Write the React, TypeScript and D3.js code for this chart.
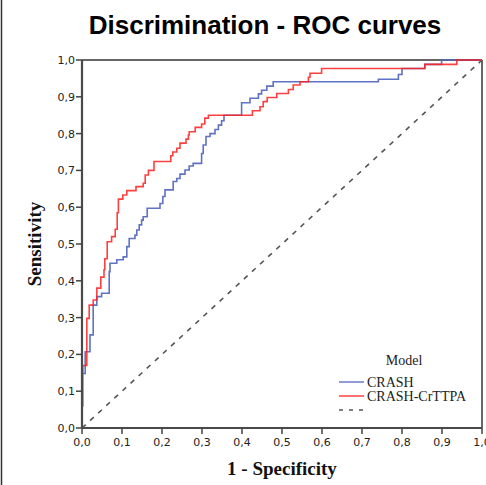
import React from "react";
import * as d3 from "d3";

// 1 - specificity / sensitivity vertices of each step curve
const crashFpr = [0.003, 0.008, 0.02, 0.028, 0.037, 0.049, 0.068, 0.07, 0.087, 0.103, 0.112, 0.118, 0.1325, 0.137, 0.143, 0.149, 0.153, 0.163, 0.195, 0.202, 0.2075, 0.228, 0.237, 0.245, 0.2575, 0.268, 0.278, 0.299, 0.303, 0.31, 0.32, 0.3325, 0.341, 0.349, 0.355, 0.399, 0.42, 0.441, 0.449, 0.462, 0.478, 0.741, 0.791, 0.8, 0.857, 0.899, 1];
const crashTpr = [0.148, 0.207, 0.253, 0.334, 0.357, 0.366, 0.425, 0.4475, 0.457, 0.465, 0.493, 0.515, 0.524, 0.538, 0.552, 0.565, 0.574, 0.597, 0.61, 0.629, 0.647, 0.67, 0.678, 0.69, 0.701, 0.712, 0.719, 0.746, 0.769, 0.792, 0.8, 0.811, 0.823, 0.835, 0.85, 0.884, 0.896, 0.908, 0.918, 0.929, 0.941, 0.9475, 0.9606, 0.977, 0.988, 1, 1];

const ttpaFpr = [0.002, 0.002, 0.012, 0.018, 0.028, 0.037, 0.047, 0.055, 0.057, 0.063, 0.074, 0.083, 0.088, 0.091, 0.102, 0.112, 0.135, 0.153, 0.158, 0.166, 0.18, 0.222, 0.227, 0.237, 0.245, 0.26, 0.266, 0.268, 0.283, 0.299, 0.307, 0.316, 0.426, 0.445, 0.453, 0.463, 0.487, 0.516, 0.528, 0.545, 0.566, 0.57, 0.599, 0.857, 0.937, 1];
const ttpaTpr = [0.058, 0.17, 0.298, 0.334, 0.348, 0.38, 0.41, 0.43, 0.46, 0.506, 0.52, 0.54, 0.585, 0.622, 0.633, 0.645, 0.656, 0.665, 0.6875, 0.7, 0.724, 0.74, 0.75, 0.76, 0.774, 0.785, 0.796, 0.805, 0.817, 0.826, 0.842, 0.85, 0.862, 0.873, 0.887, 0.898, 0.909, 0.92, 0.932, 0.941, 0.953, 0.964, 0.977, 0.988, 1, 1];

const seriesNames = ["CRASH", "CRASH-CrTTPA"];
const seriesColors = ["#4f63bd", "#ff1f1f"];

const W = 486;
const H = 485;

const comma = d3.formatLocale({ decimal: ",", thousands: ".", grouping: [3], currency: ["", ""] }).format(".1f");

export default function App() {
  const x = d3.scaleLinear().domain([0, 1]).range([82, 482]);
  const y = d3.scaleLinear().domain([0, 1]).range([428, 60]);
  const ticks = x.ticks(10);

  const line = d3
    .line<[number, number]>()
    .x((d) => x(d[0]))
    .y((d) => y(d[1]))
    .curve(d3.curveStepAfter);

  const crash = line(crashFpr.map((v, i) => [v, crashTpr[i]]));
  const ttpa = line(ttpaFpr.map((v, i) => [v, ttpaTpr[i]]));

  const tickFont = { fontFamily: "DejaVu Sans", fontSize: 11, fill: "#222" };
  const serif = "Liberation Serif";

  return (
    <svg width={W} height={H} style={{ position: "absolute", left: 0, top: 0 }}>
      <rect width={W} height={H} fill="#fff" />
      <line x1={1.5} x2={1.5} y1={0} y2={H} stroke="#333" strokeWidth={1.5} />

      <text x={265} y={34} textAnchor="middle" fontFamily="Liberation Sans" fontWeight="bold" fontSize={26} fill="#000">
        Discrimination - ROC curves
      </text>

      {/* frame */}
      <line x1={x(0)} x2={x(1)} y1={y(1)} y2={y(1)} stroke="#666" strokeWidth={2} />
      <line x1={x(1)} x2={x(1)} y1={y(1)} y2={y(0)} stroke="#666" strokeWidth={2} />

      {/* reference diagonal */}
      <line x1={x(0)} y1={y(0)} x2={x(1)} y2={y(1)} stroke="#555" strokeWidth={1.6} strokeDasharray="5,6" />

      <path d={crash ?? ""} fill="none" stroke={seriesColors[0]} strokeWidth={1.6} strokeOpacity={0.9} />
      <path d={ttpa ?? ""} fill="none" stroke={seriesColors[1]} strokeWidth={1.6} strokeOpacity={0.85} />

      {/* axes */}
      <line x1={x(0)} x2={x(0)} y1={y(1)} y2={y(0)} stroke="#4a4a4a" strokeWidth={2.2} />
      <line x1={x(0)} x2={x(1)} y1={y(0)} y2={y(0)} stroke="#4a4a4a" strokeWidth={2.2} />

      {ticks.map((t) => (
        <g key={"y" + t}>
          <line x1={x(0) - 6} x2={x(0)} y1={y(t)} y2={y(t)} stroke="#444" strokeWidth={1.5} />
          <text x={x(0) - 7} y={y(t) + 4} textAnchor="end" {...tickFont}>
            {comma(t)}
          </text>
        </g>
      ))}
      {ticks.map((t) => (
        <g key={"x" + t}>
          <line x1={x(t)} x2={x(t)} y1={y(0)} y2={y(0) + 6} stroke="#444" strokeWidth={1.5} />
          <text x={x(t)} y={y(0) + 18} textAnchor="middle" {...tickFont}>
            {comma(t)}
          </text>
        </g>
      ))}

      <text x={(x(0) + x(1)) / 2} y={475} textAnchor="middle" fontFamily={serif} fontWeight="bold" fontSize={19} fill="#111">
        1 - Specificity
      </text>
      <text
        transform={`translate(41, ${(y(0) + y(1)) / 2}) rotate(-90)`}
        textAnchor="middle"
        fontFamily={serif}
        fontWeight="bold"
        fontSize={19}
        fill="#111"
      >
        Sensitivity
      </text>

      {/* legend */}
      <text x={404} y={365} textAnchor="middle" fontFamily={serif} fontSize={14} fill="#222">
        Model
      </text>
      {seriesNames.map((name, i) => (
        <g key={name}>
          <line x1={339} x2={364} y1={382 + i * 14} y2={382 + i * 14} stroke={seriesColors[i]} strokeWidth={1.8} strokeOpacity={0.7} />
          <text x={367} y={386.5 + i * 14} fontFamily={serif} fontSize={14} fill="#222">
            {name}
          </text>
        </g>
      ))}
      <line x1={339} x2={364} y1={410} y2={410} stroke="#555" strokeWidth={1.5} strokeDasharray="4,6" />
    </svg>
  );
}
